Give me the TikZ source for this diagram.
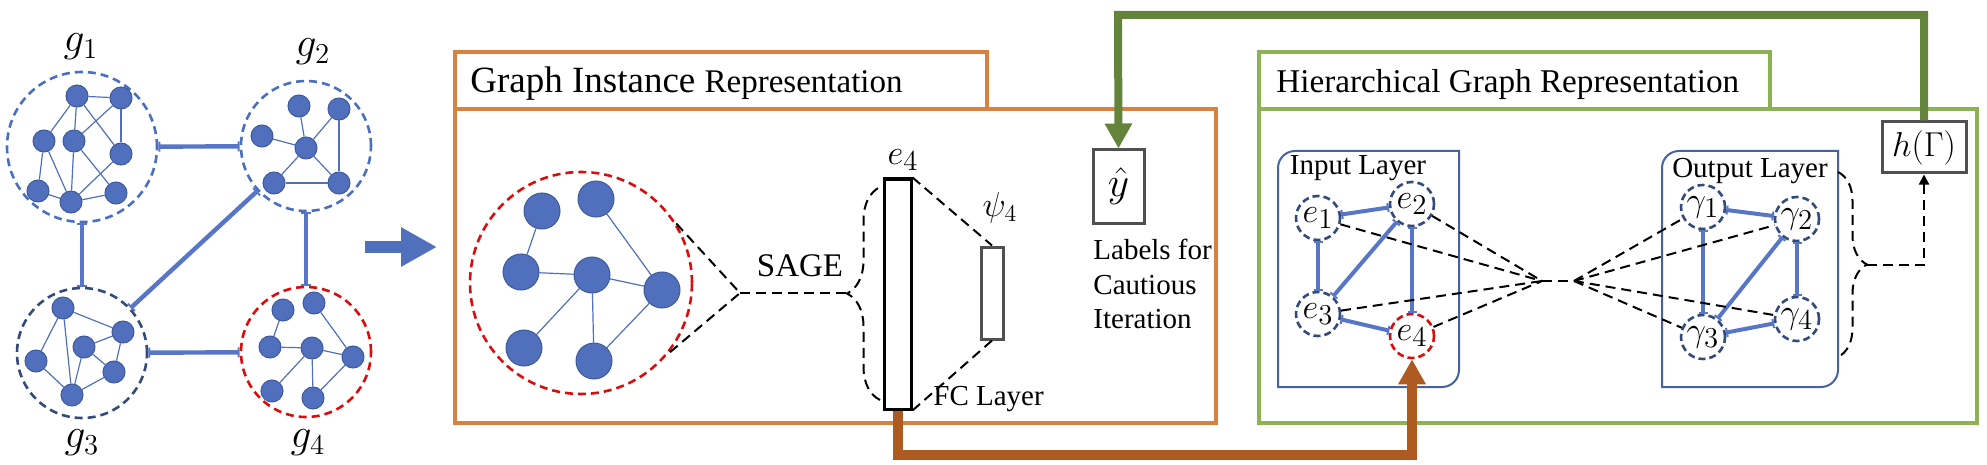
\documentclass[tikz,border=0pt]{standalone}
\usepackage{amsmath}
\usepackage{fontspec}
\setmainfont{Liberation Serif}
\usetikzlibrary{arrows.meta,decorations.pathreplacing,positioning}
\definecolor{dotblue}{RGB}{80,112,190}
\definecolor{dotedge}{RGB}{62,90,154}
\definecolor{linkblue}{RGB}{88,118,200}
\definecolor{ringblue}{RGB}{74,111,192}
\definecolor{ringnavy}{RGB}{52,74,122}
\definecolor{layerblue}{RGB}{69,98,166}
\definecolor{cutred}{RGB}{221,12,12}
\definecolor{frameorange}{RGB}{217,130,63}
\definecolor{framegreen}{RGB}{141,178,85}
\definecolor{loopgreen}{RGB}{100,132,60}
\definecolor{loopbrown}{RGB}{173,91,32}
\definecolor{boxgray}{RGB}{80,80,80}

\begin{document}
\begin{tikzpicture}[x=0.5pt, y=-0.5pt, line join=miter,
  dot/.style = {circle, draw=dotedge, fill=dotblue, line width=0.5pt, inner sep=0pt, minimum size=11pt},
  bigdot/.style = {dot, minimum size=18pt},
  edge/.style = {draw=dotblue, line width=0.6pt},
  ring/.style = {circle, draw=ringblue, dash pattern=on 4pt off 2.5pt, line width=1.3pt, inner sep=0pt, minimum size=65pt},
  link/.style = {draw=linkblue, line width=2.2pt, {Bar[width=5pt,line width=1pt]}-{Bar[width=5pt,line width=1pt]}},
  glabel/.style = {inner sep=0pt, font=\fontsize{21}{21}\selectfont},
  txt/.style = {inner sep=0pt, font=\fontsize{14.5}{17.25}\selectfont},
  dline/.style = {draw=black, line width=1pt, dash pattern=on 5pt off 3pt},
  emb/.style = {circle, draw=ringnavy, dash pattern=on 3.5pt off 2pt, line width=1.3pt, inner sep=0pt, minimum size=22pt, font=\fontsize{19}{19}\selectfont},
  eedge/.style = {draw=linkblue, line width=2pt, {Bar[width=4.5pt,line width=1pt]}-{Bar[width=4.5pt,line width=1pt]}},
  gbox/.style = {draw=boxgray, line width=1.5pt, inner sep=0pt}
]
\useasboundingbox (0,0) rectangle (1987,465);

\node[ring, minimum size=75pt] (g1) at (82,147) {};
\node[ring] (g2) at (306,146) {};
\node[ring, draw=ringnavy] (g3) at (82,353) {};
\node[ring, draw=cutred] (g4) at (306,352) {};
\node[glabel] (lg1) at (81,47) {$g_1$};
\node[glabel] (lg2) at (313,52) {$g_2$};
\node[glabel] (lg3) at (82,443) {$g_3$};
\node[glabel] (lg4) at (308,443) {$g_4$};

\node[dot] (a1) at (77,96) {};
\node[dot] (a2) at (121,98) {};
\node[dot] (a3) at (44,141) {};
\node[dot] (a4) at (74,141) {};
\node[dot] (a5) at (121,154) {};
\node[dot] (a6) at (38,191) {};
\node[dot] (a7) at (71,202) {};
\node[dot] (a8) at (116,193) {};
\draw[edge] (a1)--(a2); \draw[edge] (a1)--(a3); \draw[edge] (a1)--(a4); \draw[edge] (a1)--(a5);
\draw[edge] (a2)--(a4); \draw[edge] (a2)--(a5); \draw[edge] (a3)--(a6); \draw[edge] (a3)--(a7);
\draw[edge] (a4)--(a7); \draw[edge] (a4)--(a8); \draw[edge] (a5)--(a7); \draw[edge] (a6)--(a7);
\draw[edge] (a7)--(a8);

\node[dot] (b1) at (299,106) {};
\node[dot] (b2) at (339,109) {};
\node[dot] (b3) at (262,136) {};
\node[dot] (b4) at (306,148) {};
\node[dot] (b5) at (274,183) {};
\node[dot] (b6) at (339,183) {};
\draw[edge] (b1)--(b4); \draw[edge] (b2)--(b4); \draw[edge] (b2)--(b6); \draw[edge] (b3)--(b4);
\draw[edge] (b4)--(b5); \draw[edge] (b4)--(b6); \draw[edge] (b5)--(b6);

\node[dot] (c1) at (63,308) {};
\node[dot] (c2) at (123,332) {};
\node[dot] (c3) at (84,347) {};
\node[dot] (c4) at (36,361) {};
\node[dot] (c5) at (114,372) {};
\node[dot] (c6) at (72,395) {};
\draw[edge] (c1)--(c2); \draw[edge] (c1)--(c4); \draw[edge] (c1)--(c6); \draw[edge] (c2)--(c3);
\draw[edge] (c2)--(c5); \draw[edge] (c3)--(c5); \draw[edge] (c3)--(c6); \draw[edge] (c4)--(c6);
\draw[edge] (c5)--(c6);

\node[dot] (d1) at (283,310) {};
\node[dot] (d2) at (314,303) {};
\node[dot] (d3) at (270,347) {};
\node[dot] (d4) at (312,348) {};
\node[dot] (d5) at (353,357) {};
\node[dot] (d6) at (272,391) {};
\node[dot] (d7) at (313,398) {};
\draw[edge] (d1)--(d3); \draw[edge] (d2)--(d5); \draw[edge] (d3)--(d4); \draw[edge] (d4)--(d5);
\draw[edge] (d4)--(d6); \draw[edge] (d4)--(d7); \draw[edge] (d5)--(d7);

\draw[link] (g1)--(g2); \draw[link] (g1)--(g3); \draw[link] (g2)--(g4);
\draw[link] (g2)--(g3); \draw[link] (g3)--(g4);

\coordinate (arr1) at (365,247);
\coordinate (arr2) at (437,247);
\draw[draw=dotblue, line width=6pt, -{Triangle[length=18pt,width=18.5pt]}] (arr1)--(arr2);

\draw[frameorange, line width=2pt] (455,52) rectangle (987,109);
\draw[frameorange, line width=2pt] (455,109) rectangle (1216,423);
\node[anchor=base west, inner sep=0pt] (gir) at (470,93) {\fontsize{18.5}{20}\selectfont Graph Instance \fontsize{16.5}{20}\selectfont Representation};

\node[ring, draw=cutred, minimum size=111pt] (sub) at (581,283) {};
\node[bigdot] (s1) at (542,211) {};
\node[bigdot] (s2) at (596,199) {};
\node[bigdot] (s3) at (521,272) {};
\node[bigdot] (s4) at (592,275) {};
\node[bigdot] (s5) at (662,290) {};
\node[bigdot] (s6) at (524,348) {};
\node[bigdot] (s7) at (594,361) {};
\draw[edge] (s1)--(s3); \draw[edge] (s2)--(s5); \draw[edge] (s3)--(s4); \draw[edge] (s4)--(s5);
\draw[edge] (s4)--(s6); \draw[edge] (s4)--(s7); \draw[edge] (s5)--(s7);

\coordinate (sagehub) at (740,293);
\coordinate (bracetop) at (880,187);
\coordinate (bracebot) at (880,400);
\coordinate (bracetip) at (847,293);
\node[anchor=base, inner sep=0pt, font=\fontsize{16.5}{18}\selectfont] (sage) at (800,276) {SAGE};
\draw[dline] (sub.32)--(sagehub)--(sub.-39);
\draw[dline] (sagehub)--(bracetip);
\draw[dline, decorate, decoration={brace, amplitude=16.5pt}] (bracebot)--(bracetop);

\node[draw, line width=1.5pt, inner sep=0pt, minimum width=13.5pt, minimum height=115pt] (e4bar) at (897.5,294) {};
\node[glabel, font=\fontsize{19}{19}\selectfont] (le4) at (903,160) {$e_4$};
\node[gbox, minimum width=11pt, minimum height=46pt] (psibar) at (992,293) {};
\node[glabel, font=\fontsize{17}{17}\selectfont] (lpsi) at (1000,208) {$\psi_4$};
\draw[dline] (e4bar.north east)--(psibar.north);
\draw[dline] (psibar.south)--(e4bar.south east);
\node[txt, anchor=base west] (fc) at (933,405) {FC Layer};

\node[gbox, minimum width=25.5pt, minimum height=36.5pt, font=\fontsize{20}{20}\selectfont] (yhat) at (1118.5,186.5) {$\hat{y}$};
\node[txt, anchor=north west, align=left] (cau) at (1093,239) {Labels for\\Cautious\\Iteration};

\draw[framegreen, line width=2pt] (1259,52) rectangle (1770,109);
\draw[framegreen, line width=2pt] (1259,109) rectangle (1977,423);
\node[anchor=base west, inner sep=0pt] (hgr) at (1276,93) {\fontsize{16.6}{20}\selectfont Hierarchical Graph Representation};

\draw[layerblue, line width=1pt] (1368,151) -- (1459,151) [rounded corners=8.5pt] -- (1459,387) [sharp corners] -- (1278,387) [rounded corners=8.5pt] -- (1278,151) [sharp corners] -- cycle;
\draw[layerblue, line width=1pt] (1750,387) -- (1662,387) [rounded corners=8.5pt] -- (1662,151) [sharp corners] -- (1838,151) [rounded corners=8.5pt] -- (1838,387) [sharp corners] -- cycle;
\node[txt, anchor=base] (inl) at (1358,175) {Input Layer};
\node[txt, anchor=base] (outl) at (1750,177) {Output Layer};

\node[emb] (e1) at (1318,218) {$e_1$};
\node[emb] (e2) at (1412,204) {$e_2$};
\node[emb] (e3) at (1318,314) {$e_3$};
\node[emb, draw=cutred] (e4) at (1412,336) {$e_4$};
\draw[eedge] (e1)--(e2); \draw[eedge] (e1)--(e3); \draw[eedge] (e2)--(e3);
\draw[eedge] (e2)--(e4); \draw[eedge] (e3)--(e4);

\node[emb] (r1) at (1703,207) {$\gamma_1$};
\node[emb] (r2) at (1797,219) {$\gamma_2$};
\node[emb] (r3) at (1703,337) {$\gamma_3$};
\node[emb] (r4) at (1797,319) {$\gamma_4$};
\draw[eedge] (r1)--(r2); \draw[eedge] (r1)--(r3); \draw[eedge] (r2)--(r3);
\draw[eedge] (r2)--(r4); \draw[eedge] (r3)--(r4);

\coordinate (hubL) at (1542,281);
\coordinate (hubR) at (1574,281);
\draw[dline] (e1)--(hubL); \draw[dline] (e2)--(hubL); \draw[dline] (e3)--(hubL); \draw[dline] (e4)--(hubL);
\draw[dline] (hubL)--(hubR);
\draw[dline] (hubR)--(r1); \draw[dline] (hubR)--(r2); \draw[dline] (hubR)--(r3); \draw[dline] (hubR)--(r4);

\node[gbox, minimum width=42pt, minimum height=25.5pt, font=\fontsize{18.5}{18.5}\selectfont] (hG) at (1924,147.5) {$h(\Gamma)$};
\coordinate (outtop) at (1838,172);
\coordinate (outbot) at (1838,357);
\coordinate (outtip) at (1867,265);
\draw[dline, decorate, decoration={brace, amplitude=14.5pt}] (outtop)--(outbot);
\draw[dline, -{Triangle[length=5pt,width=5pt]}] (outtip) -| (hG.south);

\coordinate (gtop) at (1118,15);
\draw[loopgreen, line width=4pt, -{Triangle[length=12.5pt,width=13pt]}] (hG.north) |- (gtop) -- (yhat.north);
\draw[loopbrown, line width=5pt, -{Triangle[length=12.5pt,width=13pt]}] (e4bar.south) -- ++(0,44) -| (e4.south);

\end{tikzpicture}
\end{document}
